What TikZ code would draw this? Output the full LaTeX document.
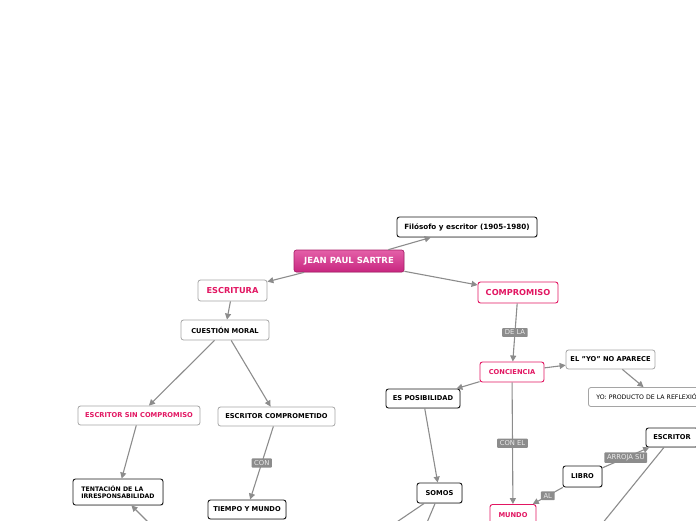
\documentclass[tikz,border=0pt]{standalone}
\usepackage{fontspec}
\setmainfont{DejaVu Sans}
\usetikzlibrary{arrows.meta,shadows}
\definecolor{pinkc}{RGB}{226,22,98}
\definecolor{jpstop}{RGB}{228,96,168}
\definecolor{jpsbot}{RGB}{200,38,128}
\definecolor{jpsedge}{RGB}{170,30,105}
\definecolor{edgec}{RGB}{140,140,140}
\definecolor{lblc}{RGB}{140,140,140}
\definecolor{grayb}{RGB}{165,165,165}
\tikzset{
  box/.style={rounded corners=2.5pt, inner sep=0pt, align=center, font=\fontsize{6.7}{7.5}\selectfont\bfseries, fill=white},
  blk/.style={box, draw=black!90, line width=0.9pt, drop shadow={shadow xshift=0.7pt, shadow yshift=-0.7pt, opacity=0.35}},
  gry/.style={box, draw=grayb, line width=0.8pt},
  pnk/.style={box, draw=pinkc, line width=0.9pt, text=pinkc},
  main/.style={font=\fontsize{8.2}{9}\selectfont\bfseries},
  lbl/.style={fill=lblc, text=white!92!black, font=\fontsize{6.8}{7.5}\selectfont, inner xsep=2.6pt, inner ysep=2pt, rounded corners=0.8pt},
  edge/.style={draw=edgec, line width=1.1pt, -{Triangle[length=6pt,width=6pt]}},
  plain/.style={draw=edgec, line width=1.1pt}
}
\begin{document}
\begin{tikzpicture}[x=1pt,y=-1pt]
\useasboundingbox (0,0) rectangle (696,520);
\clip (0,0) rectangle (696,520);
% nodes
\node[blk, minimum width=140pt, minimum height=20pt, font=\fontsize{7.2}{8}\selectfont\bfseries] (filo) at (467,227) {Filósofo y escritor (1905-1980)};
\node[box, font=\fontsize{8.5}{9}\selectfont\bfseries, draw=jpsedge, line width=0.7pt, top color=jpstop, bottom color=jpsbot, text=white, minimum width=110pt, minimum height=22pt, drop shadow={shadow xshift=0.7pt, shadow yshift=-0.7pt, opacity=0.3}] (jps) at (349,261) {JEAN PAUL SARTRE};
\node[gry, main, text=pinkc, minimum width=69pt, minimum height=21pt] (escr) at (232.5,290.5) {ESCRITURA};
\node[pnk, main, minimum width=80pt, minimum height=21pt] (comp) at (518,292.5) {COMPROMISO};
\node[gry, minimum width=88pt, minimum height=20pt] (cuest) at (225,330) {CUESTIÓN MORAL};
\node[gry, text=pinkc, minimum width=122pt, minimum height=19pt] (sincomp) at (139,415.5) {ESCRITOR SIN COMPROMISO};
\node[gry, minimum width=117pt, minimum height=19pt] (comprom) at (276.5,416.5) {ESCRITOR COMPROMETIDO};
\node[blk, minimum width=90pt, minimum height=26pt, align=left, font=\fontsize{6.2}{6.8}\selectfont\bfseries] (tent) at (118,492) {TENTACIÓN DE LA\\IRRESPONSABILIDAD};
\node[blk, minimum width=78pt, minimum height=19pt] (tiempo) at (247,509.5) {TIEMPO Y MUNDO};
\node[pnk, minimum width=64pt, minimum height=20pt] (conc) at (512,372) {CONCIENCIA};
\node[gry, minimum width=89pt, minimum height=19pt] (yo) at (610.5,359.5) {EL "YO" NO APARECE};
\node[gry, minimum width=134pt, minimum height=19pt, font=\fontsize{6.2}{7}\selectfont, anchor=west, text width=118pt, align=left] (yoprod) at (588,397) {YO: PRODUCTO DE LA REFLEXIÓN};
\node[blk, minimum width=74pt, minimum height=19pt] (posib) at (423,398.5) {ES POSIBILIDAD};
\node[blk, minimum width=45pt, minimum height=20pt] (somos) at (439.5,493) {SOMOS};
\node[pnk, minimum width=46pt, minimum height=21pt] (mundo) at (513,515) {MUNDO};
\node[blk, minimum width=39pt, minimum height=21pt] (libro) at (582.5,476.5) {LIBRO};
\node[blk, minimum width=52pt, minimum height=19pt] (escritor) at (672,437.5) {ESCRITOR};
% off-screen ends
\coordinate (offA) at (160,534);
\coordinate (offB) at (385,530);
\coordinate (offC) at (423,532);
\coordinate (offD) at (597,530);
% edges
\draw[edge] (jps) -- (filo);
\draw[edge] (jps) -- (escr);
\draw[edge] (jps) -- (comp);
\draw[edge] (escr) -- (cuest);
\draw[edge] (cuest) -- (sincomp);
\draw[edge] (cuest) -- (comprom);
\draw[edge] (sincomp) -- (tent);
\draw[edge] (comprom) -- node[lbl]{CON} (tiempo);
\draw[edge] (offA) -- (tent);
\draw[edge] (comp) -- node[lbl]{DE LA} (conc);
\draw[edge] (conc) -- (yo);
\draw[edge] (yo) -- (yoprod);
\draw[edge] (conc) -- (posib);
\draw[edge] (conc) -- node[lbl]{CON EL} (mundo);
\draw[edge] (posib) -- (somos);
\draw[plain] (somos) -- (offB);
\draw[plain] (somos) -- (offC);
\draw[edge] (libro) -- node[lbl]{ARROJA SU} (escritor);
\draw[edge] (libro) -- node[lbl]{AL} (mundo);
\draw[plain] (escritor) -- (offD);
\end{tikzpicture}
\end{document}
